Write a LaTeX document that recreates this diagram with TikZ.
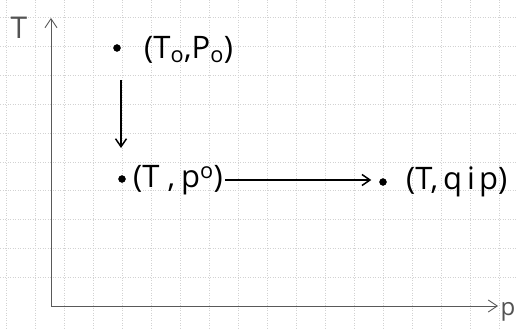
\documentclass[tikz,border=0pt]{standalone}
\usepackage{fontspec}
\setmainfont{Open Sans}
\usetikzlibrary{arrows.meta}
\begin{document}
\begin{tikzpicture}[x=1pt,y=-1pt,
  gridline/.style={gray!35,dotted,line width=0.5pt},
  axis/.style={gray!70!black,line width=0.9pt,-{Straight Barb[length=9pt,width=12pt]}},
  flow/.style={black,line width=1.5pt,-{Straight Barb[length=8pt,width=11pt]}},
  dotpt/.style={circle,fill=black,draw=black,inner sep=0pt,minimum size=7pt},
  lbl/.style={font=\fontsize{31}{34}\selectfont,inner sep=1pt},
  axlbl/.style={text=gray!65!black,inner sep=0pt}]
\useasboundingbox (0,0) rectangle (517,329);
\fill[white] (0,0) rectangle (517,329);
% grid
\foreach \gx in {6,35,64,93,122,151,180,209,238,267,296,325,354,383,412,441,470,499}
  \draw[gridline] (\gx,0) -- (\gx,329);
\foreach \gy in {17,46,75,104,133,162,190,219,248,277}
  \draw[gridline] (0,\gy) -- (517,\gy);
% axes
\coordinate (O) at (51,306);
\coordinate (ytop) at (51,18);
\coordinate (xend) at (498,306);
\draw[axis] (O) -- (ytop);
\draw[axis] (O) -- (xend);
\node[axlbl,font=\fontsize{30}{32}\selectfont] (Tlab) at (19,28) {T};
\node[axlbl,font=\fontsize{24}{26}\selectfont] (plab) at (508,312) {p};
% points
\node[dotpt] (d1) at (117,48) {};
\node[lbl,anchor=west] (l1) at (143,50) {(T$_{\mathrm{o}}$,P$_{\mathrm{o}}$)};
\node[dotpt] (d2) at (122,179) {};
\node[lbl,anchor=west] (l2) at (132,180) {(T\hspace{8pt},\hspace{6pt}p$^{\mathrm{o}}$)};
\node[dotpt] (d3) at (383,182) {};
\node[lbl,anchor=west] (l3) at (405,182) {(T,\hspace{5pt}q\hspace{5pt}i\hspace{4pt}p)};
\coordinate (a1s) at (121,80);
\coordinate (a1e) at (121,148);
\draw[flow] (a1s) -- (a1e);
\draw[flow] (l2.east |- d2) ++(1,1) -- ([xshift=-8pt,yshift=2pt]d3.west);
\end{tikzpicture}
\end{document}
